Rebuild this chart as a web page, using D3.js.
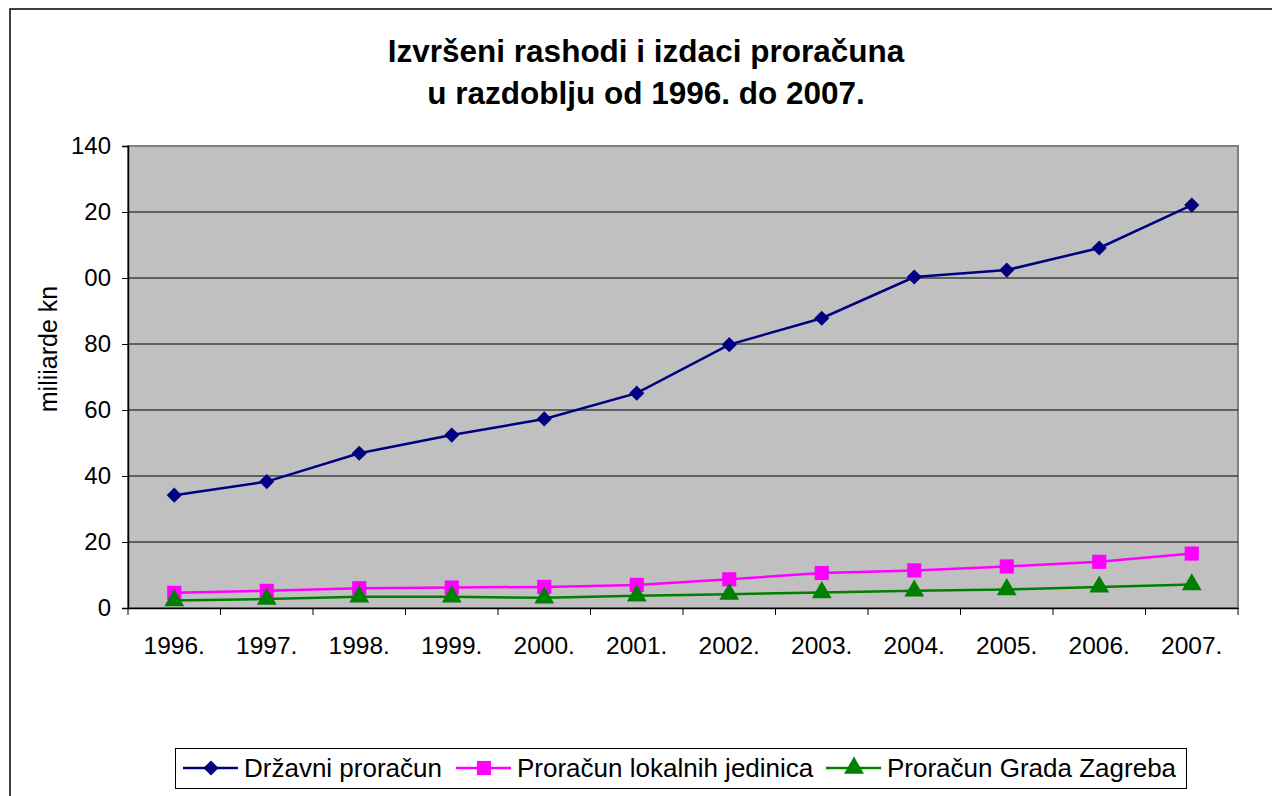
<!DOCTYPE html>
<html><head><meta charset="utf-8">
<script src="https://cdn.jsdelivr.net/npm/d3@7"></script>
<style>body{margin:0;background:#fff}svg{display:block}text{font-family:"Liberation Sans",Arial,sans-serif}</style>
</head><body>
<script>
const years = ["1996.","1997.","1998.","1999.","2000.","2001.","2002.","2003.","2004.","2005.","2006.","2007."];
const drzavni = [34.2,38.3,46.9,52.4,57.3,65.1,79.8,87.8,100.3,102.4,109.1,122.1];
const lokalni = [4.6,5.2,6.0,6.2,6.4,7.0,8.7,10.6,11.4,12.6,14.0,16.5];
const zagreb = [2.3,2.7,3.4,3.4,3.1,3.7,4.2,4.7,5.2,5.6,6.4,7.1];
const yTicks = [0,20,40,60,80,100,120,140];
const yTickLabels = ["0","20","40","60","80","00","20","140"];
const seriesNames = ["Državni proračun","Proračun lokalnih jedinica","Proračun Grada Zagreba"];
const titleLines = ["Izvršeni rashodi i izdaci proračuna","u razdoblju od 1996. do 2007."];
const yTitle = "miliiarde kn";

const W=1272,H=796;
const FF="Liberation Sans, Arial, sans-serif";
const svg=d3.select("body").append("svg").attr("width",W).attr("height",H);
// outer frame
svg.append("rect").attr("x",10).attr("y",9).attr("width",1300).attr("height",900)
  .attr("fill","#fff").attr("stroke","#000").attr("stroke-width",1.5);

const L=128,R=1238,T=146,B=608;
const x=d3.scaleBand().domain(years).range([L,R]);
const y=d3.scaleLinear().domain([0,140]).range([B,T]);

svg.append("rect").attr("x",L).attr("y",T).attr("width",R-L).attr("height",B-T)
  .attr("fill","#c0c0c0").attr("stroke","#808080").attr("stroke-width",2);

// gridlines
svg.append("g").selectAll("line").data(yTicks.filter(d=>d>0&&d<140)).join("line")
  .attr("x1",L).attr("x2",R).attr("y1",d=>y(d)).attr("y2",d=>y(d))
  .attr("stroke","#000").attr("stroke-width",1);

// y axis
const yAxis=d3.axisLeft(y).tickValues(yTicks).tickSize(6).tickPadding(11)
  .tickFormat((d,i)=>yTickLabels[i]);
const gy=svg.append("g").attr("transform",`translate(${L},0)`).call(yAxis);
gy.select(".domain").attr("stroke","#000").attr("stroke-width",1.5);
gy.selectAll(".tick line").attr("stroke","#000");
gy.selectAll("text").attr("font-size",24).attr("fill","#000").attr("font-family",FF);

// x axis
const xAxis=d3.axisBottom(x).tickSize(0).tickPadding(29);
const gx=svg.append("g").attr("transform",`translate(0,${B})`).call(xAxis);
gx.select(".domain").attr("stroke","#000").attr("stroke-width",1.5);
gx.selectAll("text").attr("font-size",24.5).attr("fill","#000").attr("font-family",FF);
// x tick marks at band boundaries
const bounds=years.map(d=>x(d)).concat([x(years[years.length-1])+x.bandwidth()]);
svg.append("g").selectAll("line").data(bounds).join("line")
  .attr("x1",d=>d).attr("x2",d=>d).attr("y1",B).attr("y2",B+7).attr("stroke","#000");

// title
svg.append("text").attr("x",646).attr("y",62).attr("text-anchor","middle")
  .attr("font-size",31.5).attr("font-weight","bold").text(titleLines[0]);
svg.append("text").attr("x",646).attr("y",104).attr("text-anchor","middle")
  .attr("font-size",31.5).attr("font-weight","bold").text(titleLines[1]);

// y title
svg.append("text").attr("transform","translate(57,349) rotate(-90)").attr("text-anchor","middle")
  .attr("font-size",25).text(yTitle);

const colors=["#000080","#ff00ff","#008000"];
const data=[drzavni,lokalni,zagreb];
const line=d3.line().x((d,i)=>x(years[i])+x.bandwidth()/2).y(d=>y(d));

function sym(i){
  if(i===0) return d3.symbol().type(d3.symbolSquare).size(115)(); // rotated for diamond
  if(i===1) return d3.symbol().type(d3.symbolSquare).size(200)();
  return d3.symbol().type(d3.symbolTriangle).size(170)();
}
data.forEach((s,k)=>{
  svg.append("path").datum(s).attr("d",line).attr("fill","none")
    .attr("stroke",colors[k]).attr("stroke-width",2.5);
  svg.append("g").selectAll("path").data(s).join("path")
    .attr("d",sym(k))
    .attr("transform",(d,i)=>`translate(${x(years[i])+x.bandwidth()/2},${y(d)})`+(k===0?" rotate(45)":""))
    .attr("fill",colors[k]);
});

// legend
const lg=svg.append("g");
lg.append("rect").attr("x",175.5).attr("y",748.5).attr("width",1011).attr("height",40)
  .attr("fill","#fff").attr("stroke","#000").attr("stroke-width",1);
const legX=[183,456,826];
seriesNames.forEach((n,k)=>{
  const g=lg.append("g").attr("transform",`translate(${legX[k]},768)`);
  g.append("line").attr("x1",0).attr("x2",55).attr("stroke",colors[k]).attr("stroke-width",2.5);
  g.append("path").attr("d",sym(k)).attr("transform","translate(28,0)"+(k===0?" rotate(45)":"")).attr("fill",colors[k]);
  g.append("text").attr("x",61).attr("y",9).attr("font-size",26).text(n);
});
</script>
</body></html>
